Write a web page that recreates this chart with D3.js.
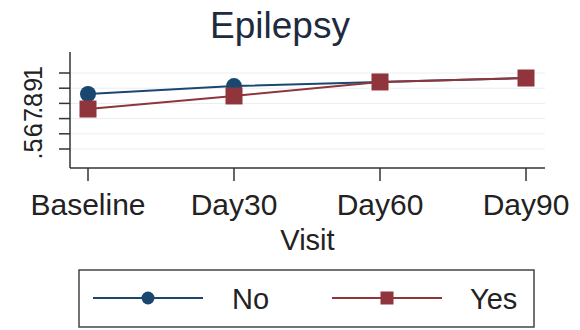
<!DOCTYPE html>
<html><head><meta charset="utf-8">
<script src="https://cdn.jsdelivr.net/npm/d3@7"></script>
<style>body{margin:0;background:#fff}svg{display:block}text{font-family:Arial,"Liberation Sans",sans-serif}</style>
</head><body>
<script>
const title = "Epilepsy";
const categories = ["Baseline","Day30","Day60","Day90"];
const seriesNames = ["No","Yes"];
const noValues = [0.862, 0.914, 0.941, 0.967];
const yesValues = [0.763, 0.849, 0.941, 0.967];
const yTicks = [0.5,0.6,0.7,0.8,0.9,1];
const yTickLabels = [".5",".6",".7",".8",".9","1"];
const xTitle = "Visit";
const colors = ["#1a476f","#90353b"];

(function(){
const W=580,H=330;
const svg=d3.select("body").append("svg").attr("width",W).attr("height",H);
const pLeft=70,pRight=545,pTop=52,pBottom=168;
const x=d3.scalePoint().domain(categories).range([88,526]);
const y=d3.scaleLinear().domain([0.5,1]).range([149,73]);

// gridlines
svg.append("g").selectAll("line").data(yTicks).join("line")
  .attr("x1",pLeft).attr("x2",pRight).attr("y1",d=>y(d)).attr("y2",d=>y(d))
  .attr("stroke","#eaeef0").attr("stroke-width",1);

// axes lines
svg.append("line").attr("x1",pLeft).attr("x2",pLeft).attr("y1",pTop).attr("y2",pBottom).attr("stroke","#333").attr("stroke-width",1.5);
svg.append("line").attr("x1",pLeft).attr("x2",pRight).attr("y1",pBottom).attr("y2",pBottom).attr("stroke","#333").attr("stroke-width",1.5);

// y ticks
const yAxis=svg.append("g");
yAxis.selectAll("line").data(yTicks).join("line")
  .attr("x1",pLeft-11).attr("x2",pLeft).attr("y1",d=>y(d)).attr("y2",d=>y(d)).attr("stroke","#333").attr("stroke-width",1.5);
yAxis.selectAll("text").data(yTicks).join("text")
  .attr("transform",d=>`translate(42,${y(d)}) rotate(-90)`)
  .attr("text-anchor","middle").attr("font-size",25).attr("fill","#222")
  .text((d,i)=>yTickLabels[i]);

// x ticks
const xAxis=svg.append("g");
xAxis.selectAll("line").data(categories).join("line")
  .attr("x1",d=>x(d)).attr("x2",d=>x(d)).attr("y1",pBottom).attr("y2",pBottom+13).attr("stroke","#333").attr("stroke-width",1.5);
xAxis.selectAll("text").data(categories).join("text")
  .attr("x",d=>x(d)).attr("y",215).attr("text-anchor","middle").attr("font-size",30).attr("fill","#222").text(d=>d);
svg.append("text").attr("x",(pLeft+pRight)/2).attr("y",250).attr("text-anchor","middle").attr("font-size",29).attr("fill","#222").text(xTitle);

// title
svg.append("text").attr("x",280).attr("y",38).attr("text-anchor","middle").attr("font-size",37).attr("fill","#1e2b3f").text(title);

// series
const line=d3.line().x((d,i)=>x(categories[i])).y(d=>y(d));
const data=[noValues,yesValues];
data.forEach((vals,k)=>{
  svg.append("path").datum(vals).attr("d",line).attr("fill","none").attr("stroke",colors[k]).attr("stroke-width",2);
});
// markers
svg.append("g").selectAll("circle").data(noValues).join("circle")
  .attr("cx",(d,i)=>x(categories[i])).attr("cy",d=>y(d)).attr("r",8).attr("fill",colors[0]);
svg.append("g").selectAll("rect").data(yesValues).join("rect")
  .attr("x",(d,i)=>x(categories[i])-8.5).attr("y",d=>y(d)-8.5).attr("width",17).attr("height",17).attr("fill",colors[1]);

// legend
const lg=svg.append("g");
lg.append("rect").attr("x",79).attr("y",270).attr("width",455).attr("height",57).attr("fill","#fff").attr("stroke","#444").attr("stroke-width",1.5);
const ly=298;
lg.append("line").attr("x1",93).attr("x2",203).attr("y1",ly).attr("y2",ly).attr("stroke",colors[0]).attr("stroke-width",2);
lg.append("circle").attr("cx",148).attr("cy",ly).attr("r",6.5).attr("fill",colors[0]);
lg.append("text").attr("x",232).attr("y",309).attr("font-size",29).attr("fill","#222").text(seriesNames[0]);
lg.append("line").attr("x1",332).attr("x2",442).attr("y1",ly).attr("y2",ly).attr("stroke",colors[1]).attr("stroke-width",2);
lg.append("rect").attr("x",387-6.5).attr("y",ly-6.5).attr("width",13).attr("height",13).attr("fill",colors[1]);
lg.append("text").attr("x",470).attr("y",309).attr("font-size",29).attr("fill","#222").text(seriesNames[1]);
})();
</script>
</body></html>
